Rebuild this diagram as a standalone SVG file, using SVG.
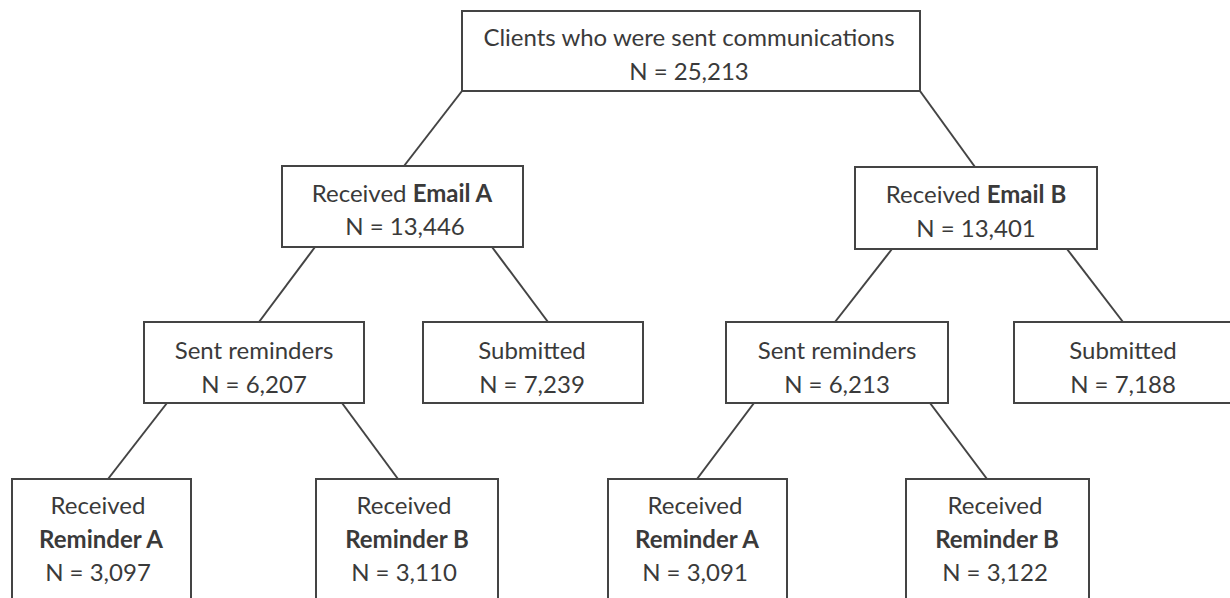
<svg xmlns="http://www.w3.org/2000/svg" width="1230" height="598" viewBox="0 0 1230 598">
<style>
.box{fill:#ffffff;stroke:#444444;stroke-width:2}
.ln{stroke:#444444;stroke-width:2;fill:none}
text{font-family:"Lato","Liberation Sans",sans-serif;font-size:24px;fill:#3a3a3a;text-anchor:middle}
.b{font-weight:bold}
</style>
<rect width="1230" height="598" fill="#ffffff"/>
<g id="connectors">
<line class="ln" x1="462" y1="91" x2="404" y2="166"/>
<line class="ln" x1="920" y1="91" x2="975" y2="167"/>
<line class="ln" x1="315" y1="247" x2="259" y2="322"/>
<line class="ln" x1="492" y1="247" x2="548" y2="322"/>
<line class="ln" x1="892" y1="249" x2="835" y2="322"/>
<line class="ln" x1="1067" y1="249" x2="1123" y2="322"/>
<line class="ln" x1="167" y1="403" x2="108" y2="479"/>
<line class="ln" x1="342" y1="403" x2="398" y2="479"/>
<line class="ln" x1="754" y1="403" x2="697" y2="479"/>
<line class="ln" x1="930" y1="403" x2="987" y2="479"/>
</g>
<g id="root">
<rect class="box" x="462" y="11" width="458" height="80"/>
<text x="689" y="46">Clients who were sent communications</text>
<text x="689" y="80">N = 25,213</text>
</g>
<g id="emailA">
<rect class="box" x="282" y="166" width="241" height="81"/>
<text x="402" y="202">Received <tspan class="b">Email A</tspan></text>
<text x="405" y="235">N = 13,446</text>
</g>
<g id="emailB">
<rect class="box" x="855" y="167" width="242" height="82"/>
<text x="976" y="203">Received <tspan class="b">Email B</tspan></text>
<text x="976" y="237">N = 13,401</text>
</g>
<g id="sentA">
<rect class="box" x="144" y="322" width="220" height="81"/>
<text x="254" y="359">Sent reminders</text>
<text x="254" y="393">N = 6,207</text>
</g>
<g id="submittedA">
<rect class="box" x="423" y="322" width="220" height="81"/>
<text x="532" y="359">Submitted</text>
<text x="532" y="393">N = 7,239</text>
</g>
<g id="sentB">
<rect class="box" x="726" y="322" width="222" height="81"/>
<text x="837" y="359">Sent reminders</text>
<text x="837" y="393">N = 6,213</text>
</g>
<g id="submittedB">
<rect class="box" x="1014" y="322" width="220" height="81"/>
<text x="1123" y="359">Submitted</text>
<text x="1123" y="393">N = 7,188</text>
</g>
<g id="remAA">
<rect class="box" x="12" y="479" width="179" height="130"/>
<text x="98" y="514">Received</text>
<text x="101" y="548" class="b">Reminder A</text>
<text x="98" y="581">N = 3,097</text>
</g>
<g id="remAB">
<rect class="box" x="316" y="479" width="182" height="130"/>
<text x="404" y="514">Received</text>
<text x="407" y="548" class="b">Reminder B</text>
<text x="404" y="581">N = 3,110</text>
</g>
<g id="remBA">
<rect class="box" x="608" y="479" width="179" height="130"/>
<text x="695" y="514">Received</text>
<text x="697" y="548" class="b">Reminder A</text>
<text x="695" y="581">N = 3,091</text>
</g>
<g id="remBB">
<rect class="box" x="906" y="479" width="183" height="130"/>
<text x="995" y="514">Received</text>
<text x="997" y="548" class="b">Reminder B</text>
<text x="995" y="581">N = 3,122</text>
</g>
</svg>
